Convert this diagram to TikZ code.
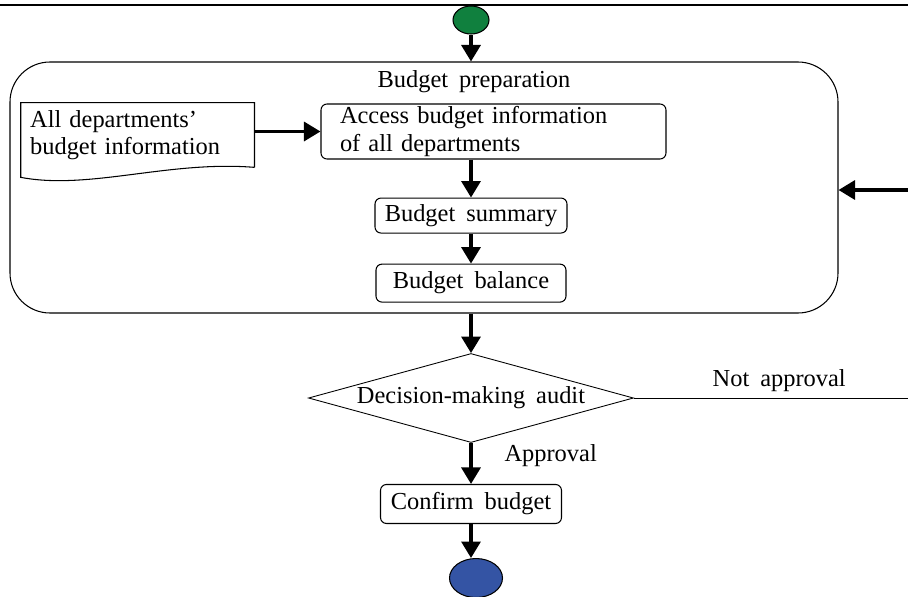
\documentclass[tikz,border=0pt]{standalone}
\usepackage{fontspec}
\setmainfont{Liberation Serif}[WordSpace=1.8]
\usepackage{tikz}
\usetikzlibrary{shapes.geometric, arrows.meta, positioning, calc}
\definecolor{startgreen}{RGB}{16,128,62}
\definecolor{endblue}{RGB}{52,84,164}

\begin{document}
\begin{tikzpicture}[
    node distance=0.6cm and 1.3cm,
    every node/.style={font=\fontsize{13.9}{15.5}\selectfont},
    activity/.style={rectangle, rounded corners=0.12cm, draw, line width=0.6pt, inner sep=0pt, align=center},
    decision/.style={diamond, draw, line width=0.5pt, aspect=3.65, inner sep=0pt, minimum width=6.5cm, minimum height=1.78cm},
    terminal/.style={ellipse, draw, line width=0.6pt},
    arrow/.style={-{Triangle[length=0.33cm, width=0.38cm]}, line width=1.9pt},
]

\useasboundingbox (0,0) rectangle (18.16,-11.92);

% top rule
\draw[line width=1.4pt] (0,-0.1) -- (18.16,-0.1);

\node[terminal, fill=startgreen, minimum width=0.72cm, minimum height=0.56cm] (start) at (9.42,-0.40) {};

\node[draw, line width=0.6pt, rounded corners=0.8cm, minimum width=16.56cm, minimum height=5.02cm] (prep) at (8.48,-3.75) {};
\node (title) at (9.48,-1.64) {Budget preparation};

\node[activity, align=left, text width=6.14cm, inner xsep=0.38cm, minimum height=1.1cm] (access) at (9.87,-2.63) {Access budget information\\of all departments};
\node[text width=4.3cm, inner xsep=0.18cm, minimum height=1.28cm, align=left, left=1.32cm of access, yshift=-0.07cm] (doc) {All departments’\\budget information};
\draw[line width=0.6pt] (doc.south east) -- (doc.north east) -- (doc.north west) -- ($(doc.south west)+(0,-0.2)$)
    .. controls ($(doc.south west)+(1.36,-0.46)$) and ($(doc.south west)+(2.96,0.14)$) .. (doc.south east);

\node[activity, minimum width=3.84cm, minimum height=0.7cm, below=0.76cm of access, xshift=-0.45cm] (summary) {Budget summary};
\node[activity, minimum width=3.8cm, minimum height=0.76cm, below=0.6cm of summary] (balance) {Budget balance};

\node[decision] (audit) at (9.42,-7.96) {Decision-making audit};
\node[activity, minimum width=3.62cm, minimum height=0.78cm, below=0.82cm of audit] (confirm) {Confirm budget};
\node[terminal, fill=endblue, minimum width=1.06cm, minimum height=0.78cm, below=0.68cm of confirm, xshift=0.1cm] (end) {};

\coordinate (back) at (18.16,-3.80);
\coordinate (notok) at (18.16,-7.96);

\draw[arrow] (start) -- (start |- prep.north);
\draw[arrow] (doc.east |- access.west) -- (access.west);
\draw[arrow] (summary |- access.south) -- (summary);
\draw[arrow] (summary) -- (balance);
\draw[arrow] (prep.south -| audit) -- (audit);
\draw[arrow] (audit) -- node[right=0.52cm, pos=0.3] {Approval} (confirm);
\draw[arrow] (confirm) -- (confirm |- end.north);
\draw[arrow] (back) -- (back -| prep.east);
\draw[line width=0.5pt] (audit.east) -- node[above, pos=0.53] {Not approval} (notok);

\end{tikzpicture}
\end{document}
